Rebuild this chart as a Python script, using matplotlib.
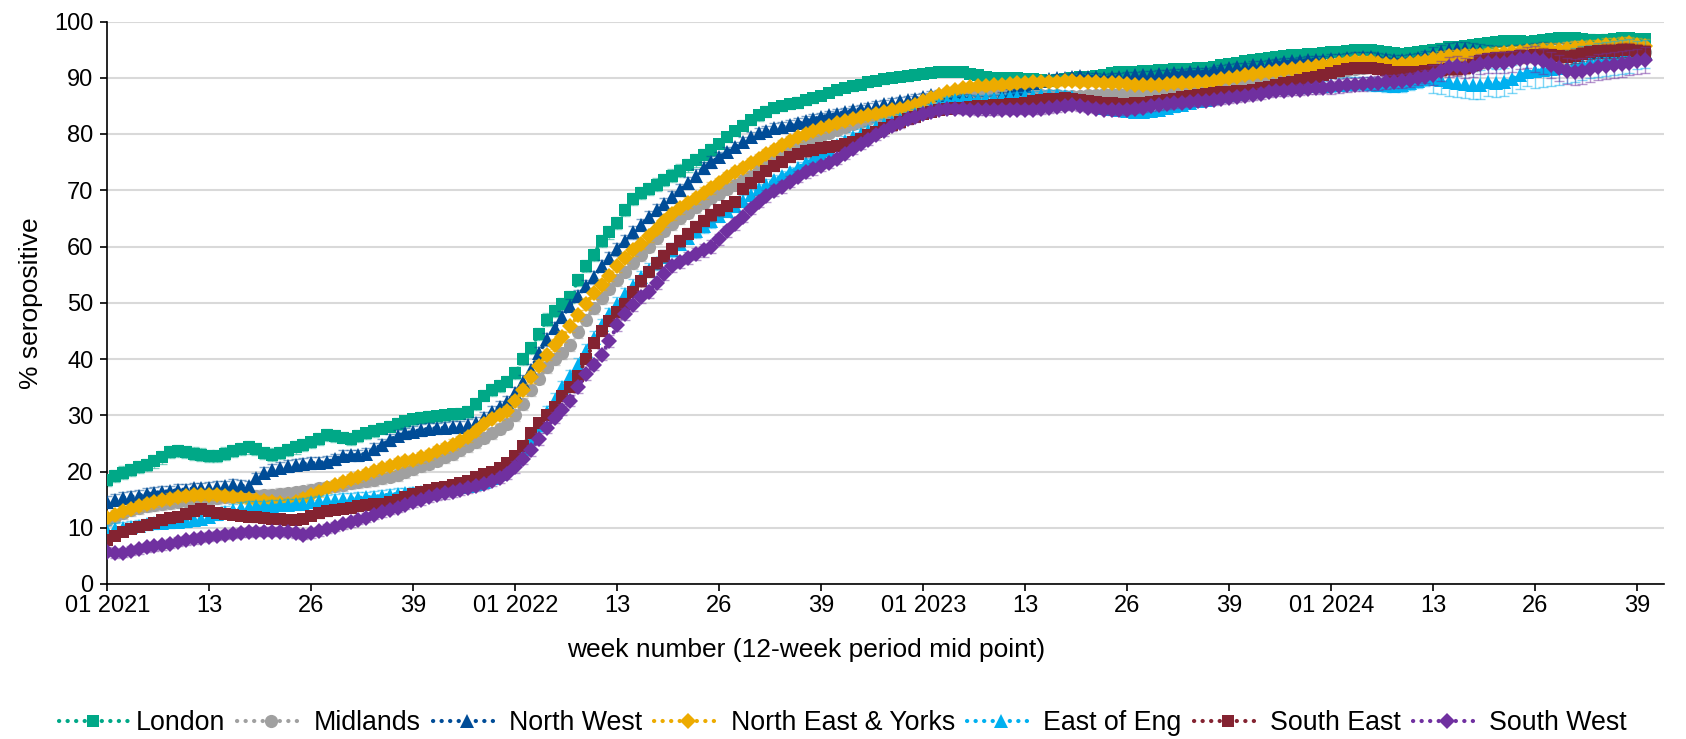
import numpy as np
import matplotlib
matplotlib.use("Agg")
import matplotlib.pyplot as plt

plt.rcParams['font.family'] = ['Liberation Sans', 'DejaVu Sans']

tick_labels = ['01 2021', '13', '26', '39', '01 2022', '13', '26', '39',
               '01 2023', '13', '26', '39', '01 2024', '13', '26', '39']

regions = ['London', 'Midlands', 'North West', 'North East & Yorks',
           'East of Eng', 'South East', 'South West']

london = [
    18.5, 19.2, 19.8, 20.3, 20.8, 21.2, 21.8, 22.5, 23.5, 23.6, 23.5, 23.2, 23.0, 22.8, 22.8, 23.2, 23.6, 24.0, 24.3, 24.0,
    23.3, 23.0, 23.3, 23.8, 24.3, 24.7, 25.2, 25.8, 26.5, 26.3, 26.0, 25.8, 26.3, 26.8, 27.2, 27.6, 28.0, 28.5, 28.9, 29.3,
    29.6, 29.7, 29.8, 30.0, 30.2, 30.3, 30.6, 32.0, 33.5, 34.5, 35.2, 36.0,
    37.5, 40.0, 42.0, 44.5, 47.0, 48.5, 49.8, 51.0, 54.0, 56.5, 58.5, 61.0, 62.5, 64.2, 66.5, 68.5, 69.5, 70.2, 71.0, 71.8,
    72.6, 73.5, 74.4, 75.3, 76.2, 77.2, 78.3, 79.4, 80.5, 81.5, 82.5, 83.3, 84.0, 84.6, 85.0, 85.3, 85.6, 86.0, 86.4, 86.8,
    87.3, 87.8, 88.2, 88.5, 88.8, 89.2, 89.5, 89.7, 90.0, 90.2, 90.3, 90.5,
    90.7, 90.9, 91.0, 91.1, 91.1, 91.0, 90.7, 90.4, 90.2, 90.0, 89.9, 90.0, 89.9, 89.8, 89.7, 89.6, 89.5, 89.6, 89.8, 90.0,
    90.2, 90.2, 90.3, 90.5, 90.8, 91.0, 91.0, 91.1, 91.2, 91.2, 91.3, 91.4, 91.5, 91.5, 91.6, 91.7, 91.8, 92.0, 92.2, 92.5,
    92.7, 92.9, 93.1, 93.3, 93.5, 93.7, 93.9, 94.0, 94.1, 94.2, 94.3, 94.4,
    94.5, 94.6, 94.8, 94.9, 95.0, 94.9, 94.7, 94.5, 94.4, 94.3, 94.4, 94.6, 94.8, 95.0, 95.2, 95.4, 95.5, 95.6, 95.8, 96.0,
    96.1, 96.3, 96.5, 96.6, 96.5, 96.4, 96.5, 96.7, 96.9, 97.0, 97.1, 97.0, 96.9, 96.8, 96.7, 96.8, 96.9, 97.0, 97.0, 96.9,
    96.9]

midlands = [
    11.4, 12.0, 12.6, 13.1, 13.5, 13.8, 14.0, 14.2, 14.4, 14.6, 14.8, 14.9, 15.0, 15.1, 15.3, 15.4, 15.5, 15.6, 15.6, 15.7,
    15.8, 15.9, 16.0, 16.1, 16.3, 16.5, 16.8, 17.0, 17.2, 17.4, 17.6, 17.9, 18.1, 18.3, 18.5, 18.8, 19.1, 19.4, 19.9, 20.4,
    20.9, 21.4, 21.9, 22.5, 23.1, 23.8, 24.5, 25.2, 26.0, 26.8, 27.6, 28.5,
    30.0, 32.0, 34.5, 36.5, 38.5, 40.0, 41.0, 42.5, 44.8, 47.0, 49.0, 50.8, 52.5, 54.0, 55.5, 57.0, 58.5, 60.0, 61.5, 62.8,
    64.0, 65.0, 66.0, 67.0, 67.8, 68.6, 69.4, 70.2, 71.0, 71.8, 72.6, 73.6, 74.6, 75.5, 76.3, 77.0, 77.7, 78.4, 79.0, 79.6,
    80.2, 80.8, 81.3, 81.8, 82.2, 82.6, 83.0, 83.3, 83.7, 84.1, 84.5, 84.8,
    85.2, 85.6, 86.0, 86.3, 86.6, 86.9, 87.1, 87.3, 87.4, 87.5, 87.5, 87.4, 87.3, 87.2, 87.1, 87.0, 86.9, 86.9, 86.8, 86.8,
    86.8, 86.9, 87.0, 87.1, 87.1, 87.2, 87.2, 87.3, 87.3, 87.4, 87.5, 87.6, 87.7, 87.8, 87.9, 88.0, 88.2, 88.4, 88.6, 88.8,
    89.0, 89.2, 89.3, 89.4, 89.5, 89.6, 89.7, 89.9, 90.1, 90.3, 90.5, 90.7,
    91.0, 91.2, 91.4, 91.6, 91.8, 91.9, 92.0, 92.0, 92.0, 92.1, 92.2, 92.3, 92.5, 92.7, 92.9, 93.1, 93.2, 93.3, 93.4, 93.5,
    93.6, 93.7, 93.8, 93.9, 94.0, 94.1, 94.2, 94.3, 94.5, 94.7, 94.9, 95.0, 95.0, 94.9, 94.8, 94.8, 94.7, 94.7, 94.6, 94.5,
    94.5]

north_west = [
    14.6, 15.0, 15.3, 15.5, 15.7, 16.0, 16.2, 16.4, 16.5, 16.7, 16.8, 17.0, 17.0, 17.1, 17.3, 17.4, 17.6, 17.5, 17.4, 18.8,
    19.8, 20.3, 20.7, 21.0, 21.2, 21.4, 21.5, 21.6, 21.7, 22.2, 22.8, 22.9, 22.9, 23.2, 24.0, 24.7, 25.6, 26.4, 26.8, 27.1,
    27.4, 27.6, 27.7, 27.8, 27.9, 28.0, 28.3, 28.7, 29.6, 30.6, 31.5, 32.4,
    34.0, 36.0, 38.0, 41.0, 43.5, 45.5, 47.5, 49.5, 51.2, 53.0, 54.5, 56.5, 58.0, 59.5, 61.0, 62.5, 63.8, 65.2, 66.5, 67.5,
    68.8, 70.0, 71.3, 72.6, 74.0, 75.0, 75.9, 76.8, 77.7, 78.6, 79.4, 80.1, 80.6, 81.0, 81.3, 81.6, 81.9, 82.3, 82.7, 83.0,
    83.3, 83.6, 83.9, 84.2, 84.4, 84.7, 85.0, 85.3, 85.6, 85.8, 86.0, 86.3,
    86.6, 86.9, 87.1, 87.0, 86.7, 86.4, 86.2, 86.1, 86.1, 86.3, 86.7, 87.3, 88.0, 88.6, 89.1, 89.5, 89.7, 89.9, 90.0, 90.2,
    90.3, 90.2, 90.1, 90.0, 90.1, 90.2, 90.3, 90.4, 90.5, 90.5, 90.6, 90.7, 90.8, 90.9, 91.0, 91.0, 91.1, 91.3, 91.5, 91.7,
    91.9, 92.0, 92.2, 92.3, 92.5, 92.6, 92.8, 92.9, 93.0, 93.1, 93.2, 93.2,
    93.3, 93.4, 93.5, 93.6, 93.7, 93.7, 93.5, 93.3, 93.2, 93.2, 93.3, 93.5, 93.9, 94.3, 94.6, 94.9, 95.1, 95.2, 95.0, 94.8,
    94.6, 94.5, 94.5, 94.6, 94.7, 94.8, 94.9, 95.0, 94.9, 94.8, 94.7, 94.7, 94.6, 94.6, 94.5, 94.5, 94.4, 94.4, 94.5, 94.5,
    94.6]

ne_yorks = [
    11.7, 12.3, 12.9, 13.4, 13.8, 14.2, 14.6, 14.9, 15.2, 15.4, 15.6, 15.8, 15.8, 15.9, 15.8, 15.7, 15.5, 15.3, 15.1, 14.9,
    14.7, 14.5, 14.4, 14.3, 14.6, 15.2, 15.8, 16.4, 17.0, 17.6, 18.2, 18.7, 19.1, 19.6, 20.1, 20.6, 21.0, 21.5, 21.8, 22.1,
    22.5, 23.0, 23.6, 24.2, 24.8, 25.4, 26.2, 27.2, 28.4, 29.3, 30.0, 30.8,
    32.5, 34.5, 36.8, 38.8, 40.8, 42.5, 44.0, 45.8, 47.8, 49.8, 51.7, 53.2, 54.8, 56.5, 58.0, 59.3, 60.5, 61.8, 63.2, 64.5,
    65.7, 66.8, 67.8, 68.6, 69.5, 70.4, 71.3, 72.3, 73.2, 74.0, 74.8, 75.6, 76.4, 77.2, 78.0, 78.7, 79.4, 80.0, 80.5, 81.0,
    81.5, 81.9, 82.3, 82.7, 83.0, 83.3, 83.6, 83.9, 84.2, 84.5, 84.8, 85.2,
    85.8, 86.4, 87.0, 87.5, 87.9, 88.2, 88.4, 88.5, 88.6, 88.7, 88.8, 88.9, 89.0, 89.1, 89.2, 89.3, 89.3, 89.3, 89.4, 89.4,
    89.3, 89.3, 89.2, 89.1, 89.0, 89.0, 88.9, 88.8, 88.7, 88.7, 88.8, 88.9, 89.0, 89.0, 89.1, 89.2, 89.3, 89.5, 89.7, 89.9,
    90.2, 90.5, 90.7, 90.9, 91.1, 91.2, 91.3, 91.5, 91.7, 91.9, 92.1, 92.3,
    92.4, 92.6, 92.8, 92.9, 93.0, 92.9, 92.7, 92.4, 92.3, 92.4, 92.6, 92.8, 93.0, 93.3, 93.6, 93.8, 93.9, 94.0, 94.0, 94.1,
    94.2, 94.3, 94.4, 94.5, 94.6, 94.7, 94.8, 94.9, 95.0, 95.0, 95.2, 95.3, 95.4, 95.5, 95.6, 95.8, 95.9, 96.0, 96.1, 95.9,
    95.7]

east_of_eng = [
    9.5, 9.8, 10.0, 10.2, 10.4, 10.6, 10.8, 10.9, 11.0, 11.1, 11.2, 11.4, 11.6, 12.0, 12.4, 12.8, 13.2, 13.5, 13.7, 13.8,
    13.8, 13.9, 14.0, 14.1, 14.2, 14.3, 14.5, 14.7, 14.9, 15.0, 15.1, 15.2, 15.3, 15.4, 15.5, 15.7, 15.9, 16.0, 16.1, 16.2,
    16.3, 16.5, 16.7, 16.9, 17.1, 17.3, 17.5, 17.8, 18.2, 18.8, 19.6, 20.6,
    22.2, 24.0, 26.0, 28.2, 30.5, 32.8, 35.0, 37.0, 39.0, 41.5, 43.8, 46.0, 48.0, 49.8, 51.5, 53.0, 54.5, 55.8, 57.0, 58.2,
    59.4, 60.5, 61.6, 62.7, 63.6, 64.5, 65.4, 66.3, 67.2, 68.1, 69.2, 70.2, 71.0, 71.8, 72.5, 73.2, 74.0, 74.8, 75.6, 76.4,
    77.2, 78.0, 78.7, 79.4, 80.0, 80.6, 81.2, 81.7, 82.2, 82.7, 83.1, 83.5,
    84.0, 84.6, 85.2, 85.7, 86.0, 86.1, 86.1, 86.1, 86.2, 86.3, 86.4, 86.5, 86.6, 86.7, 86.8, 86.9, 87.0, 87.0, 86.8, 86.5,
    86.1, 85.6, 85.1, 84.7, 84.4, 84.2, 84.1, 84.0, 84.0, 84.1, 84.3, 84.6, 84.9, 85.2, 85.5, 85.8, 86.1, 86.4, 86.7, 87.0,
    87.2, 87.4, 87.6, 87.8, 88.0, 88.1, 88.2, 88.3, 88.4, 88.5, 88.5, 88.6,
    88.7, 88.8, 88.9, 89.0, 89.0, 88.9, 88.8, 88.7, 88.6, 88.7, 89.0, 89.4, 89.7, 89.8, 89.6, 89.3, 89.0, 88.9, 88.7, 88.8,
    89.2, 89.0, 89.3, 89.8, 90.5, 91.0, 91.2, 91.4, 91.5, 91.7, 92.0, 92.3, 92.6, 92.9, 93.1, 93.3, 93.5, 93.7, 93.9, 94.1,
    94.2]

south_east = [
    7.9, 8.6, 9.3, 9.8, 10.2, 10.5, 10.9, 11.3, 11.7, 12.0, 12.4, 12.9, 13.3, 13.0, 12.7, 12.5, 12.3, 12.1, 12.0, 11.9,
    11.8, 11.6, 11.5, 11.4, 11.4, 11.6, 12.1, 12.6, 12.9, 13.2, 13.4, 13.6, 13.8, 14.0, 14.2, 14.3, 14.5, 14.9, 15.5, 16.0,
    16.4, 16.7, 17.0, 17.3, 17.6, 17.9, 18.4, 19.0, 19.5, 20.0, 20.6, 21.6,
    22.7, 24.5, 26.8, 28.7, 30.0, 31.5, 33.5, 35.0, 37.0, 40.0, 42.8, 45.0, 46.8, 48.3, 49.8, 52.0, 53.8, 55.5, 57.0, 58.3,
    59.6, 61.0, 62.3, 63.5, 64.6, 65.6, 66.4, 67.2, 67.9, 70.3, 71.3, 72.4, 73.4, 74.3, 75.1, 75.9, 76.5, 76.9, 77.2, 77.5,
    77.7, 77.9, 78.2, 78.6, 79.2, 79.8, 80.4, 81.0, 81.6, 82.1, 82.6, 83.1,
    83.6, 84.0, 84.3, 84.5, 84.6, 84.7, 84.8, 84.9, 85.0, 85.1, 85.2, 85.3, 85.4, 85.6, 85.8, 86.0, 86.2, 86.3, 86.4, 86.3,
    86.1, 85.9, 85.7, 85.6, 85.5, 85.4, 85.4, 85.5, 85.6, 85.7, 85.9, 86.1, 86.3, 86.5, 86.7, 86.9, 87.1, 87.3, 87.4, 87.5,
    87.6, 87.7, 87.9, 88.1, 88.4, 88.7, 89.0, 89.3, 89.6, 89.9, 90.2, 90.5,
    90.8, 91.2, 91.5, 91.7, 91.8, 91.8, 91.6, 91.3, 91.1, 91.0, 91.0, 91.1, 91.2, 91.3, 91.4, 91.5, 91.6, 91.8, 92.3, 92.9,
    93.3, 93.5, 93.6, 93.7, 93.8, 93.9, 94.0, 94.1, 94.0, 93.8, 93.7, 93.9, 94.2, 94.5, 94.7, 94.8, 94.8, 94.9, 94.9, 94.8,
    94.6]

south_west = [
    5.7, 5.5, 5.6, 5.9, 6.2, 6.5, 6.7, 6.9, 7.2, 7.5, 7.8, 8.0, 8.2, 8.4, 8.6, 8.8, 8.9, 9.1, 9.2, 9.3,
    9.3, 9.3, 9.3, 9.2, 9.0, 8.8, 9.0, 9.4, 9.8, 10.2, 10.6, 11.0, 11.4, 11.8, 12.3, 12.8, 13.2, 13.6, 14.1, 14.6,
    15.0, 15.4, 15.8, 16.1, 16.4, 16.7, 17.0, 17.4, 17.8, 18.3, 18.9, 19.6,
    20.8, 22.3, 23.8, 25.8, 27.8, 29.6, 31.0, 32.6, 35.0, 37.3, 39.0, 40.8, 43.2, 46.0, 48.0, 49.6, 51.0, 52.0, 53.5, 55.2,
    56.5, 57.3, 58.0, 58.7, 59.3, 60.0, 61.3, 62.7, 64.0, 65.3, 66.7, 68.0, 69.0, 69.9, 70.6, 71.5, 72.4, 73.2, 73.8, 74.3,
    74.8, 75.6, 76.5, 77.4, 78.2, 79.0, 79.8, 80.6, 81.4, 82.0, 82.6, 83.1,
    83.6, 84.0, 84.3, 84.5, 84.5, 84.4, 84.3, 84.2, 84.2, 84.2, 84.3, 84.3, 84.3, 84.3, 84.3, 84.4, 84.6, 84.8, 85.0, 85.1,
    84.9, 84.7, 84.5, 84.3, 84.2, 84.2, 84.3, 84.5, 84.7, 84.9, 85.1, 85.3, 85.5, 85.6, 85.7, 85.8, 85.9, 86.0, 86.2, 86.4,
    86.6, 86.8, 87.0, 87.2, 87.4, 87.6, 87.7, 87.8, 87.9, 88.0, 88.1, 88.2,
    88.3, 88.5, 88.7, 88.8, 88.9, 89.0, 89.1, 89.2, 89.3, 89.4, 89.6, 89.9, 90.2, 90.5, 91.2, 91.9, 92.1, 91.8, 92.0, 92.4,
    92.6, 92.7, 92.7, 92.9, 93.3, 93.6, 93.4, 92.9, 92.3, 91.7, 91.2, 91.1, 91.2, 91.5, 91.9, 92.1, 92.3, 92.5, 92.7, 92.9,
    93.2]

# error bar half-widths, one value per 13-week block
err_london = [1.1, 1.1, 1.0, 1.0, 1.1, 1.1, 0.9, 0.8, 0.7, 0.7, 0.7, 0.7, 0.8, 0.9, 0.9, 0.9]
err_midlands = [1.0, 1.0, 1.0, 1.0, 1.0, 1.0, 0.9, 0.8, 0.7, 0.7, 0.8, 0.8, 1.0, 1.3, 1.5, 1.5]
err_nw = [1.0, 1.0, 1.0, 1.0, 1.1, 1.1, 0.9, 0.8, 0.7, 0.7, 0.7, 0.7, 0.9, 1.2, 1.3, 1.3]
err_ne = [0.9, 0.9, 0.9, 0.9, 1.0, 1.0, 0.9, 0.8, 0.7, 0.7, 0.7, 0.7, 0.9, 1.1, 1.2, 1.2]
err_eoe = [1.0, 1.0, 1.0, 1.0, 1.1, 1.2, 1.0, 0.9, 0.8, 0.8, 0.9, 0.9, 1.2, 2.5, 3.0, 2.5]
err_se = [0.8, 0.8, 0.8, 0.8, 0.9, 1.0, 0.9, 0.8, 0.7, 0.7, 0.7, 0.7, 0.9, 1.1, 1.2, 1.2]
err_sw = [0.8, 0.8, 0.8, 0.9, 1.0, 1.1, 1.0, 0.9, 0.8, 0.8, 0.8, 0.9, 1.2, 1.8, 2.3, 2.3]

series = [london, midlands, north_west, ne_yorks, east_of_eng, south_east, south_west]
errors = [err_london, err_midlands, err_nw, err_ne, err_eoe, err_se, err_sw]
colors = ['#00A887', '#A0A0A0', '#004C97', '#EDAB00', '#00B0F0', '#842331', '#7030A0']
markers = ['s', 'o', '^', 'D', '^', 's', 'D']
msizes = [9, 9.5, 10, 8.5, 10, 9, 8.5]

W, H = 1686, 739
fig = plt.figure(figsize=(W / 100, H / 100), dpi=100)
ax_l, ax_r, ax_t, ax_b = 107.3, 1664, 21.5, 584
ax = fig.add_axes([ax_l / W, 1 - ax_b / H, (ax_r - ax_l) / W, (ax_b - ax_t) / H])

for k, (vals, err, c, m, ms, lab) in enumerate(zip(series, errors, colors, markers, msizes, regions)):
    y = np.array(vals)
    x = np.arange(len(y))
    e = np.repeat(err, 13)[:len(y)]
    ax.errorbar(x, y, yerr=e, fmt='none', ecolor=c, alpha=0.5, elinewidth=1.0,
                capsize=3.5, capthick=1.0, zorder=2 + 2 * k)
    ax.plot(x, y, color=c, marker=m, markersize=ms, markeredgewidth=0,
            linestyle=(0, (0.05, 2.0)), linewidth=3.0, dash_capstyle='round',
            label=lab, zorder=3 + 2 * k)

ax.set_ylim(0, 100)
ax.set_xlim(0, 198.4)
ax.set_yticks(np.arange(0, 101, 10))
ax.set_xticks(np.arange(0, 13 * len(tick_labels), 13))
ax.set_xticklabels(tick_labels)
ax.yaxis.grid(True, color='#d9d9d9', linewidth=1.5, zorder=0)
ax.set_axisbelow(True)
for side in ['top', 'right']:
    ax.spines[side].set_visible(False)
for side in ['left', 'bottom']:
    ax.spines[side].set_linewidth(1.2)
    ax.spines[side].set_color('black')
ax.tick_params(axis='both', direction='out', length=5, width=1.2, labelsize=17)
ax.tick_params(axis='x', pad=3)
ax.tick_params(axis='y', pad=5)

ax.set_ylabel('% seropositive', fontsize=19, labelpad=8)
fig.text(806 / W, 1 - 650 / H, 'week number (12-week period mid point)', fontsize=19,
         ha='center', va='center')

ax.legend(loc='center', bbox_to_anchor=(0.5, 1 - 723 / H), bbox_transform=fig.transFigure,
          ncol=7, frameon=False, fontsize=19.3, handlelength=2.55, handletextpad=0.3,
          columnspacing=0.45, numpoints=1, borderaxespad=0)

fig.savefig('out.png', dpi=100)
